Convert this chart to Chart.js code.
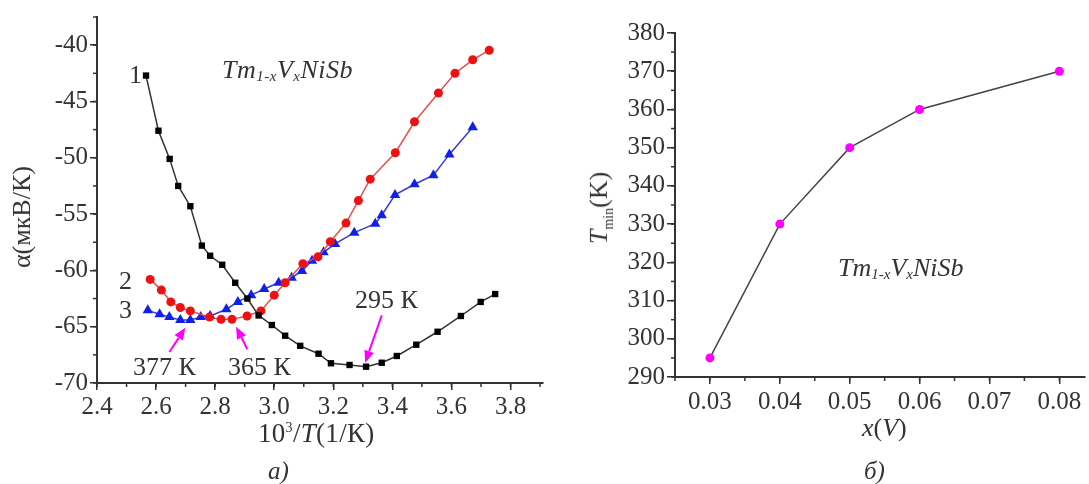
<!DOCTYPE html>
<html>
<head>
<meta charset="utf-8">
<script src="https://cdn.jsdelivr.net/npm/chart.js@4"></script>
<style>
  body { margin: 0; background: #fff; }
  #wrap { position: relative; width: 1089px; height: 484px; overflow: hidden; font-family: "Times New Roman", "Liberation Serif", Tinos, serif; color: #333; }
  canvas { position: absolute; top: 0; }
  .t { position: absolute; white-space: nowrap; font-size: 25px; line-height: 1; }
  .cmp { font-style: italic; font-size: 26px; letter-spacing: 0.5px; }
  .cmp sub { font-size: 15px; vertical-align: -3px; font-style: italic; }
  .rot { transform: translate(-50%, -50%) rotate(-90deg); }
</style>
</head>
<body>
<div id="wrap">
  <canvas id="left" width="560" height="484" style="left:0"></canvas>
  <canvas id="right" width="529" height="484" style="left:560px"></canvas>

  <div class="t rot" style="left:22px; top:217px; font-size:26px">α(мкВ/К)</div>
  <div class="t" style="left:258px; top:420px; font-size:27px; letter-spacing:0.3px">10<sup style="font-size:14px">3</sup>/<i>T</i>(1/К)</div>
  <div class="t" style="left:268px; top:458px"><i>а)</i></div>
  <div class="t cmp" style="left:222px; top:57px">Tm<sub>1-x</sub>V<sub>x</sub>NiSb</div>
  <div class="t" style="left:129px; top:62px; font-size:26px">1</div>
  <div class="t" style="left:119px; top:268px; font-size:26px">2</div>
  <div class="t" style="left:119px; top:297px; font-size:26px">3</div>
  <div class="t" style="left:133px; top:354px; font-size:26px">377 К</div>
  <div class="t" style="left:228px; top:354px; font-size:26px">365 К</div>
  <div class="t" style="left:355px; top:287px; font-size:26px">295 К</div>

  <div class="t rot" style="left:601px; top:208px; font-size:26px"><i>T</i><sub style="font-size:14px">min</sub>(K)</div>
  <div class="t" style="left:862px; top:415px; font-size:26px"><i>x</i>(<i>V</i>)</div>
  <div class="t" style="left:864px; top:458px"><i>б)</i></div>
  <div class="t cmp" style="left:838px; top:255px; letter-spacing:0">Tm<sub>1-x</sub>V<sub>x</sub>NiSb</div>
</div>

<script>
// chart a): alpha vs 10^3/T
const s1x = [2.566, 2.608, 2.646, 2.675, 2.716, 2.755, 2.783, 2.824, 2.868, 2.909, 2.947, 2.992, 3.037, 3.088, 3.150, 3.192, 3.255, 3.311, 3.364, 3.415, 3.481, 3.553, 3.632, 3.699, 3.748];
const s1y = [-42.7, -47.6, -50.1, -52.5, -54.3, -57.8, -58.7, -59.5, -61.1, -62.5, -64.0, -64.85, -65.8, -66.7, -67.4, -68.25, -68.4, -68.55, -68.2, -67.6, -66.6, -65.45, -64.05, -62.8, -62.1];

const s2x = [2.580, 2.618, 2.650, 2.682, 2.716, 2.781, 2.820, 2.857, 2.908, 2.955, 3.000, 3.037, 3.097, 3.148, 3.190, 3.243, 3.285, 3.325, 3.410, 3.475, 3.556, 3.612, 3.672, 3.728];
const s2y = [-60.8, -61.75, -62.8, -63.3, -63.6, -64.15, -64.35, -64.35, -64.05, -63.6, -62.2, -61.1, -59.4, -58.8, -57.45, -55.8, -53.8, -51.9, -49.55, -46.8, -44.25, -42.5, -41.3, -40.45];

const s3x = [2.572, 2.612, 2.645, 2.682, 2.716, 2.751, 2.783, 2.838, 2.877, 2.922, 2.966, 3.015, 3.059, 3.094, 3.128, 3.167, 3.206, 3.271, 3.342, 3.364, 3.409, 3.475, 3.539, 3.593, 3.672];
const s3y = [-63.55, -63.9, -64.15, -64.4, -64.4, -64.15, -64.05, -63.45, -62.8, -62.2, -61.65, -61.1, -60.65, -60.05, -59.15, -58.4, -57.65, -56.65, -55.85, -55.1, -53.3, -52.35, -51.55, -49.7, -47.3];

const leftXTicks = [2.4, 2.6, 2.8, 3.0, 3.2, 3.4, 3.6, 3.8];
const leftYTicks = [-70, -65, -60, -55, -50, -45, -40];

// arrows: [tipX, tipY, tailX, tailY] in data units
const arrows = [
  [2.699, -65.1, 2.645, -67.25],
  [2.871, -65.0, 2.909, -67.0],
  [3.308, -68.2, 3.364, -64.0]
];

// chart б): T_min vs x
const xV = [0.03, 0.04, 0.05, 0.06, 0.08];
const tMin = [295, 330, 350, 360, 370];
const rightXTicks = [0.03, 0.04, 0.05, 0.06, 0.07, 0.08];
const rightYTicks = [290, 300, 310, 320, 330, 340, 350, 360, 370, 380];

const axisColor = '#333';
const tickFont = { family: '"Times New Roman", "Liberation Serif", serif', size: 25 };

function pts(xs, ys) {
  return xs.map((x, i) => ({ x: x, y: ys[i] }));
}

function fixedTicks(values) {
  return function (scale) {
    scale.ticks = values.map(v => ({ value: v }));
  };
}

// small ticks between the labelled ones
const minorTicks = {
  id: 'minorTicks',
  afterDraw(chart) {
    const ctx = chart.ctx;
    ctx.save();
    ctx.strokeStyle = axisColor;
    ctx.lineWidth = 1.5;
    for (const id of ['x', 'y']) {
      const sc = chart.scales[id];
      const step = sc.options.minorStep;
      if (!step) continue;
      const start = Math.ceil(sc.min / step - 1e-6);
      const end = Math.floor(sc.max / step + 1e-6);
      for (let k = start; k <= end; k++) {
        const v = k * step;
        const p = sc.getPixelForValue(v);
        ctx.beginPath();
        if (id === 'x') {
          ctx.moveTo(p, chart.chartArea.bottom);
          ctx.lineTo(p, chart.chartArea.bottom + 4);
        } else {
          ctx.moveTo(chart.chartArea.left, p);
          ctx.lineTo(chart.chartArea.left - 4, p);
        }
        ctx.stroke();
      }
    }
    ctx.restore();
  }
};

const arrowPlugin = {
  id: 'arrowPlugin',
  afterDatasetsDraw(chart) {
    if (chart.canvas.id !== 'left') return;
    const ctx = chart.ctx;
    const sx = chart.scales.x, sy = chart.scales.y;
    ctx.save();
    ctx.strokeStyle = '#ff00ff';
    ctx.fillStyle = '#ff00ff';
    ctx.lineWidth = 2;
    for (const a of arrows) {
      const x1 = sx.getPixelForValue(a[2]), y1 = sy.getPixelForValue(a[3]);
      const x2 = sx.getPixelForValue(a[0]), y2 = sy.getPixelForValue(a[1]);
      const ang = Math.atan2(y2 - y1, x2 - x1);
      const hl = 12, hw = 5;
      const bx = x2 - hl * Math.cos(ang), by = y2 - hl * Math.sin(ang);
      ctx.beginPath();
      ctx.moveTo(x1, y1);
      ctx.lineTo(bx, by);
      ctx.stroke();
      ctx.beginPath();
      ctx.moveTo(x2, y2);
      ctx.lineTo(bx + hw * Math.sin(ang), by - hw * Math.cos(ang));
      ctx.lineTo(bx - hw * Math.sin(ang), by + hw * Math.cos(ang));
      ctx.closePath();
      ctx.fill();
    }
    ctx.restore();
  }
};

function axis(opts) {
  return {
    type: 'linear',
    min: opts.min,
    max: opts.max,
    minorStep: opts.minorStep,
    afterBuildTicks: fixedTicks(opts.ticks),
    afterFit: opts.fit,
    border: { display: true, color: axisColor, width: 2 },
    grid: { drawOnChartArea: false, drawTicks: true, tickLength: opts.tickLength, color: axisColor, lineWidth: 1.5 },
    ticks: {
      color: axisColor,
      font: tickFont,
      padding: opts.padding,
      maxRotation: 0,
      autoSkip: false,
      callback: opts.fmt
    }
  };
}

new Chart(document.getElementById('left'), {
  type: 'line',
  data: {
    datasets: [{
      data: pts(s1x, s1y),
      borderColor: '#333',
      backgroundColor: '#000',
      borderWidth: 1.5,
      pointStyle: 'rect',
      pointRadius: 4.5,
      pointBorderWidth: 0
    }, {
      data: pts(s2x, s2y),
      borderColor: '#e85050',
      backgroundColor: '#ee1111',
      borderWidth: 1.5,
      pointStyle: 'circle',
      pointRadius: 4.5,
      pointBorderWidth: 0
    }, {
      data: pts(s3x, s3y),
      borderColor: '#3838d8',
      backgroundColor: '#1020e8',
      borderWidth: 1.5,
      pointStyle: 'triangle',
      pointRadius: 6,
      pointBorderWidth: 0
    }]
  },
  options: {
    responsive: false,
    animation: false,
    clip: false,
    layout: { padding: { left: 0, top: 17, right: 17, bottom: 0 } },
    plugins: { legend: { display: false }, tooltip: { enabled: false } },
    scales: {
      x: axis({ min: 2.4, max: 3.91, ticks: leftXTicks, minorStep: 0.1, tickLength: 7, padding: 2,
        fmt: v => v.toFixed(1), fit: s => { s.height = 101; } }),
      y: axis({ min: -70, max: -37.5, ticks: leftYTicks, minorStep: 2.5, tickLength: 7, padding: 2,
        fmt: v => String(v), fit: s => { s.width = 97; } })
    }
  },
  plugins: [minorTicks, arrowPlugin]
});

new Chart(document.getElementById('right'), {
  type: 'line',
  data: {
    datasets: [{
      data: pts(xV, tMin),
      borderColor: '#444',
      backgroundColor: '#ff00ff',
      borderWidth: 1.5,
      pointStyle: 'circle',
      pointRadius: 4.5,
      pointBorderWidth: 0
    }]
  },
  options: {
    responsive: false,
    animation: false,
    clip: false,
    layout: { padding: { left: 0, top: 33, right: 0, bottom: 0 } },
    plugins: { legend: { display: false }, tooltip: { enabled: false } },
    scales: {
      x: axis({ min: 0.025, max: 0.0836, ticks: rightXTicks, minorStep: 0.005, tickLength: 7, padding: 3,
        fmt: v => v.toFixed(2), fit: s => { s.height = 107; } }),
      y: axis({ min: 290, max: 380, ticks: rightYTicks, minorStep: 5, tickLength: 8, padding: 2,
        fmt: v => String(v), fit: s => { s.width = 115; } })
    }
  },
  plugins: [minorTicks]
});
</script>
</body>
</html>
